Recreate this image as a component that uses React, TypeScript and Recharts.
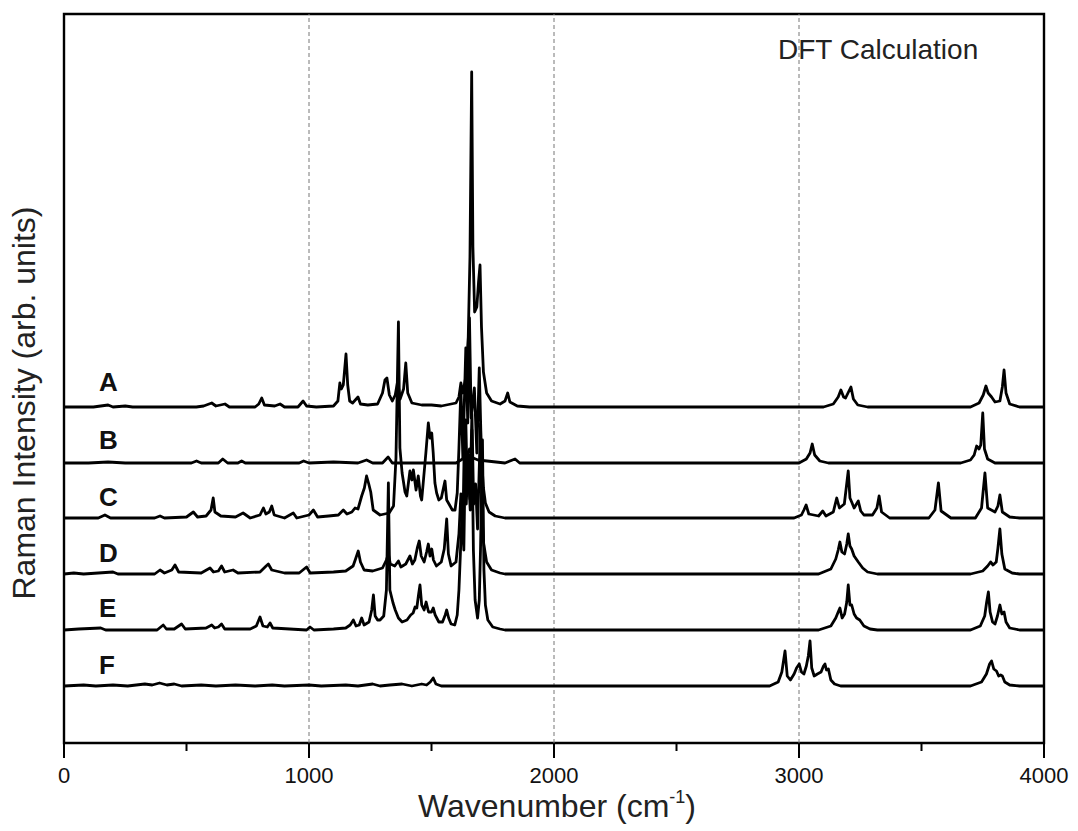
import React from "react";
import { LineChart, Line, XAxis, YAxis, ReferenceLine, ReferenceArea } from "recharts";

// Raman intensity above each trace's own baseline: [wavenumber, intensity]
const seriesA: number[][] = [
  [0,0],[120,0],[150,1],[180,2],[200,0],[250,1],[280,0],[540,0],[570,1],[603,4],[620,1],[657,3],[675,0],[780,0],[795,3],[807,9],[818,2],[860,1],[882,3],[900,0],[955,0],[976,6],[990,1],[1030,0],[1100,1],[1118,6],[1126,24],[1132,18],[1140,22],[1151,53],[1158,22],[1166,6],[1178,4],[1200,10],[1210,3],[1240,2],[1280,3],[1300,14],[1310,27],[1318,29],[1328,12],[1340,6],[1352,12],[1362,26],[1372,8],[1386,18],[1395,44],[1403,14],[1420,4],[1460,2],[1500,2],[1540,1],[1580,3],[1600,4],[1612,10],[1620,24],[1628,14],[1640,30],[1650,70],[1657,150],[1664,335],[1669,160],[1676,95],[1685,100],[1692,125],[1698,142],[1704,80],[1712,35],[1725,14],[1745,6],[1780,3],[1800,6],[1811,14],[1820,5],[1850,1],[1900,0],
  [3100,0],[3140,3],[3160,10],[3171,17],[3182,10],[3190,9],[3200,14],[3212,20],[3222,8],[3240,2],[3280,0],
  [3700,0],[3735,4],[3752,12],[3763,21],[3772,14],[3786,10],[3800,5],[3820,6],[3830,20],[3837,37],[3845,14],[3860,3],[3900,0],[4000,0],
];
const seriesB: number[][] = [
  [0,0],[100,0],[180,1],[250,0],[520,0],[541,2],[560,0],[630,0],[648,4],[668,0],[710,0],[725,2],[740,0],[960,0],[978,2],[1000,0],[1100,1],[1200,0],[1235,3],[1260,0],[1300,0],[1323,6],[1340,0],[1600,0],[1640,6],[1655,14],[1670,5],[1690,3],[1800,0],[1841,4],[1860,0],
  [3000,0],[3030,4],[3045,10],[3054,19],[3064,8],[3085,2],[3120,0],
  [3660,0],[3700,3],[3715,8],[3725,17],[3735,14],[3742,18],[3750,50],[3757,14],[3770,4],[3800,0],[4000,0],
];
const seriesC: number[][] = [
  [0,0],[140,0],[167,3],[190,0],[370,0],[392,2],[410,0],[500,1],[528,6],[545,1],[580,2],[600,8],[609,20],[616,6],[640,2],[700,1],[731,5],[760,0],[800,3],[814,10],[824,4],[838,6],[848,12],[858,3],[900,0],[936,5],[950,0],[1000,3],[1018,8],[1035,1],[1080,2],[1120,3],[1140,8],[1155,4],[1175,6],[1188,10],[1200,9],[1215,22],[1226,30],[1235,42],[1244,34],[1252,26],[1262,8],[1290,3],[1327,5],[1345,12],[1355,60],[1365,196],[1371,70],[1380,45],[1392,26],[1399,22],[1412,47],[1420,38],[1426,48],[1437,28],[1446,42],[1455,22],[1460,18],[1468,40],[1477,65],[1487,95],[1494,80],[1501,85],[1507,65],[1514,35],[1521,25],[1530,18],[1540,20],[1555,37],[1562,18],[1569,15],[1585,8],[1596,8],[1605,25],[1612,70],[1620,130],[1628,60],[1640,170],[1648,95],[1655,200],[1662,100],[1675,130],[1685,65],[1695,150],[1704,60],[1712,30],[1720,15],[1735,6],[1760,2],[1800,0],
  [2980,0],[3010,3],[3020,8],[3029,13],[3040,4],[3080,2],[3097,7],[3110,2],[3140,6],[3154,20],[3165,10],[3185,14],[3201,47],[3208,20],[3215,16],[3225,10],[3242,17],[3252,7],[3265,3],[3300,3],[3318,10],[3327,22],[3337,6],[3370,0],[3530,0],[3555,8],[3569,35],[3580,7],[3620,0],[3720,0],[3745,10],[3759,45],[3770,10],[3800,6],[3812,12],[3820,23],[3830,6],[3860,1],[3900,0],[4000,0],
];
const seriesD: number[][] = [
  [0,0],[40,1],[80,0],[200,2],[220,0],[370,0],[392,4],[410,1],[440,4],[453,9],[468,2],[560,1],[596,6],[610,2],[630,3],[643,8],[656,2],[690,4],[710,1],[800,2],[825,8],[834,10],[848,4],[900,1],[960,1],[990,7],[1005,1],[1100,2],[1150,3],[1180,8],[1190,15],[1201,23],[1210,12],[1225,4],[1260,3],[1300,6],[1316,14],[1324,20],[1332,10],[1350,8],[1365,13],[1375,7],[1395,10],[1412,18],[1422,10],[1432,14],[1442,26],[1450,33],[1458,18],[1470,12],[1480,22],[1487,30],[1494,18],[1501,25],[1508,14],[1520,8],[1540,12],[1552,25],[1562,55],[1569,20],[1580,8],[1600,12],[1612,40],[1620,80],[1628,45],[1635,150],[1642,70],[1650,120],[1657,75],[1665,160],[1672,70],[1680,90],[1688,45],[1700,150],[1706,60],[1712,32],[1725,12],[1745,4],[1780,1],[1800,0],
  [3080,0],[3130,5],[3150,15],[3160,24],[3167,32],[3175,22],[3186,20],[3195,30],[3201,40],[3208,28],[3215,25],[3225,18],[3242,12],[3260,6],[3280,2],[3320,0],
  [3700,0],[3750,3],[3770,8],[3782,12],[3792,9],[3805,12],[3812,26],[3820,45],[3828,20],[3840,5],[3870,1],[3900,0],[4000,0],
];
const seriesE: number[][] = [
  [0,0],[60,1],[150,2],[170,0],[380,0],[405,5],[418,1],[450,1],[480,6],[495,1],[580,2],[603,5],[615,2],[630,3],[643,6],[656,1],[760,1],[785,4],[800,13],[812,4],[830,3],[841,7],[852,2],[990,0],[1004,3],[1020,0],[1100,1],[1150,2],[1168,5],[1181,10],[1192,4],[1205,5],[1215,12],[1225,5],[1245,8],[1256,20],[1263,35],[1270,14],[1280,10],[1290,10],[1305,14],[1316,40],[1324,147],[1330,40],[1343,27],[1352,20],[1365,12],[1380,8],[1400,10],[1415,15],[1425,17],[1433,23],[1440,22],[1447,35],[1453,45],[1460,25],[1470,20],[1478,28],[1488,18],[1500,18],[1507,22],[1515,15],[1530,8],[1545,8],[1556,15],[1562,20],[1570,12],[1580,6],[1595,5],[1605,15],[1612,40],[1625,120],[1632,80],[1640,210],[1646,140],[1652,150],[1658,120],[1665,200],[1671,80],[1678,30],[1688,12],[1695,30],[1700,80],[1708,190],[1714,60],[1720,25],[1730,10],[1750,3],[1780,1],[1800,0],
  [3080,0],[3130,4],[3150,12],[3160,18],[3167,22],[3176,12],[3186,16],[3195,28],[3201,45],[3208,25],[3215,25],[3225,16],[3235,12],[3248,10],[3265,4],[3290,1],[3320,0],
  [3700,0],[3740,4],[3758,14],[3766,28],[3773,38],[3780,18],[3790,8],[3800,6],[3810,14],[3820,25],[3828,16],[3837,18],[3845,8],[3860,2],[3900,0],[4000,0],
];
const seriesF: number[][] = [
  [0,0],[80,1],[130,0],[200,1],[260,0],[330,2],[360,1],[390,3],[420,1],[450,2],[480,0],[560,1],[620,0],[700,1],[780,0],[850,1],[900,0],[1000,1],[1050,0],[1150,1],[1200,0],[1260,2],[1290,0],[1330,1],[1380,2],[1420,0],[1460,2],[1480,1],[1495,4],[1507,8],[1518,2],[1540,0],
  [2880,0],[2915,4],[2930,14],[2943,35],[2952,10],[2965,6],[2980,12],[2990,18],[3001,22],[3010,14],[3020,12],[3030,20],[3038,30],[3045,45],[3052,18],[3062,10],[3075,12],[3090,14],[3100,20],[3106,22],[3112,16],[3120,17],[3130,6],[3145,2],[3170,0],
  [3700,0],[3745,4],[3765,12],[3778,22],[3786,25],[3795,17],[3806,15],[3815,10],[3823,11],[3830,10],[3840,4],[3860,1],[3900,0],[4000,0],
];

const seriesNames = ["A", "B", "C", "D", "E", "F"];
const seriesList = [seriesA, seriesB, seriesC, seriesD, seriesE, seriesF];
const baselineOffsets = [336, 280, 225, 169, 113, 57];
const xTicks = [0, 500, 1000, 1500, 2000, 2500, 3000, 3500, 4000];
const gridX = [1000, 2000, 3000];
const yDomain = [0, 729];
const titleText = "DFT Calculation";
const xLabel = "Wavenumber (cm";
const yLabel = "Raman Intensity (arb. units)";

const FONT = "'Liberation Sans', Arial, Helvetica, sans-serif";

const traces = seriesList.map((s, i) =>
  s.map(([x, h]) => ({ x, y: baselineOffsets[i] + h }))
);

const Tick = (props: any) => {
  const { x, y, payload } = props;
  const major = payload.value % 1000 === 0;
  return (
    <g>
      <line x1={x} x2={x} y1={y} y2={y + (major ? 15 : 8)} stroke="#000" strokeWidth={2} />
      {major && (
        <text x={x} y={y + 40} textAnchor="middle" fontSize={22} fontFamily={FONT} fill="#111">
          {payload.value}
        </text>
      )}
    </g>
  );
};

export default function App() {
  // label baselines (page y) for series letters
  const letterY = [392, 450, 507, 563, 618, 675];
  return (
    <div style={{ position: "relative", width: 1070, height: 823, fontFamily: FONT, background: "#fff" }}>
      <LineChart width={1070} height={823} margin={{ top: 6, right: 34, left: 56, bottom: 0 }}>
        <XAxis
          dataKey="x"
          type="number"
          domain={[0, 4000]}
          ticks={xTicks}
          tick={<Tick />}
          tickSize={0}
          tickMargin={0}
          tickLine={false}
          axisLine={false}
          height={88}
          allowDataOverflow
        />
        <YAxis hide type="number" domain={yDomain} allowDataOverflow />
        {gridX.map((g) => (
          <ReferenceLine key={g} x={g} stroke="#777" strokeDasharray="4 3" strokeWidth={1} />
        ))}
        {traces.map((d, i) => (
          <Line
            key={seriesNames[i]}
            data={d}
            dataKey="y"
            type="linear"
            stroke="#000"
            strokeWidth={2.8}
            strokeLinejoin="round"
            dot={false}
            activeDot={false}
            isAnimationActive={false}
          />
        ))}
        <ReferenceArea x1={0} x2={4000} y1={yDomain[0]} y2={yDomain[1]} fill="none" stroke="#000" strokeWidth={2.4} />
      </LineChart>

      {seriesNames.map((n, i) => (
        <div
          key={n}
          style={{
            position: "absolute",
            left: 99 - 8,
            top: letterY[i] - 8 - 23,
            fontSize: 26,
            fontWeight: "bold",
            lineHeight: "26px",
            color: "#111",
          }}
        >
          {n}
        </div>
      ))}

      <div style={{ position: "absolute", left: 778 - 8, top: 34 - 8, fontSize: 28, lineHeight: "32px", color: "#222" }}>
        {titleText}
      </div>

      <div
        style={{
          position: "absolute",
          left: 0,
          width: 1114 - 16,
          top: 788 - 8,
          textAlign: "center",
          fontSize: 32,
          lineHeight: "36px",
          color: "#222",
        }}
      >
        {xLabel}
        <span style={{ fontSize: 18, position: "relative", top: -14 }}>-1</span>)
      </div>

      <div
        style={{
          position: "absolute",
          left: 24 - 8,
          top: 403 - 8,
          transform: "translate(-50%, -50%) rotate(-90deg)",
          whiteSpace: "nowrap",
          fontSize: 32,
          lineHeight: "36px",
          color: "#222",
        }}
      >
        {yLabel}
      </div>
    </div>
  );
}
